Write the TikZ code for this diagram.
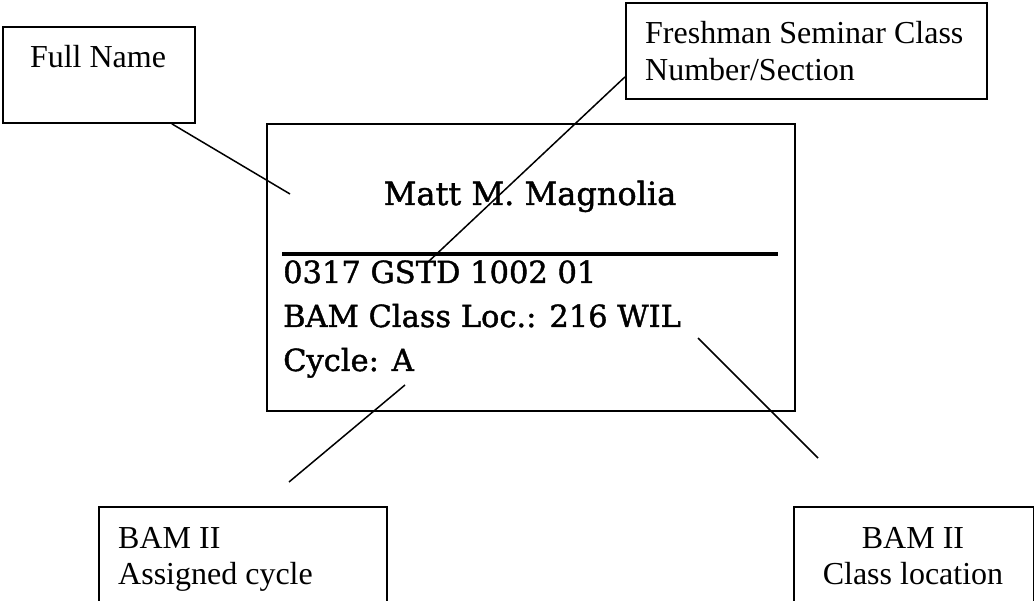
\documentclass[tikz,border=0pt]{standalone}
\usepackage{fontspec}
\setmainfont{Liberation Serif}
\newfontfamily\cardfont[FakeBold=1.3]{DejaVu Serif}
\begin{document}
\begin{tikzpicture}[x=1pt,y=-1pt,
  box/.style={draw,line width=1.8pt,inner sep=0pt,anchor=north west},
  lbl/.style={font=\fontsize{32}{36}\selectfont,inner sep=0pt},
  card/.style={font=\cardfont\fontsize{30.5}{44}\selectfont,inner sep=0pt,anchor=base west},
  conn/.style={line width=1.5pt}]
\useasboundingbox (0,0) rectangle (1034,601);
\clip (0,0) rectangle (1034,601);
% boxes
\node[box,minimum width=192pt,minimum height=96pt] (full) at (2,26) {};
\node[box,minimum width=361pt,minimum height=96pt] (fresh) at (625,2) {};
\node[box,minimum width=528pt,minimum height=287pt] (card) at (266,123) {};
\node[box,minimum width=288pt,minimum height=120pt] (assigned) at (98,506) {};
\node[box,minimum width=240pt,minimum height=120pt] (classloc) at (793,506) {};
% label texts
\node[lbl,anchor=base] (fullT) at (98,68) {Full Name};
\node[lbl,anchor=base west] (fr1) at (645,44) {Freshman Seminar Class};
\node[lbl,anchor=base west] (fr2) at (645,81) {Number/Section};
\node[lbl,anchor=base west] (as1) at (118,548) {BAM II};
\node[lbl,anchor=base west] (as2) at (118,584) {Assigned cycle};
\node[lbl,anchor=base] (cl1) at (913,548) {BAM II};
\node[lbl,anchor=base] (cl2) at (913,584) {Class location};
% card contents
\node[card,anchor=base,font=\cardfont\fontsize{32}{40}\selectfont] (name) at (530,205) {Matt M. Magnolia};
\coordinate (ruleL) at (282,254);
\coordinate (ruleR) at (778,254);
\draw[line width=4pt] (ruleL) -- (ruleR);
\node[card] (row1) at (283,283) {0317 GSTD 1002 01};
\node[card] (row2) at (283,327) {BAM Class Loc.: 216 WIL};
\node[card] (row3) at (283,371) {Cycle: A};
% connectors
\coordinate (fullEnd) at (290,194);
\draw[conn] ([xshift=-24pt]full.south east) -- (fullEnd);
\coordinate (frEnd) at (427,263);
\draw[conn] ([yshift=-26pt]fresh.west) -- (frEnd);
\coordinate (cyA) at (405,385);
\coordinate (cyB) at (289,482);
\draw[conn] (cyA) -- (cyB);
\coordinate (clA) at (698,338);
\coordinate (clB) at (818,458);
\draw[conn] (clA) -- (clB);
\end{tikzpicture}
\end{document}
